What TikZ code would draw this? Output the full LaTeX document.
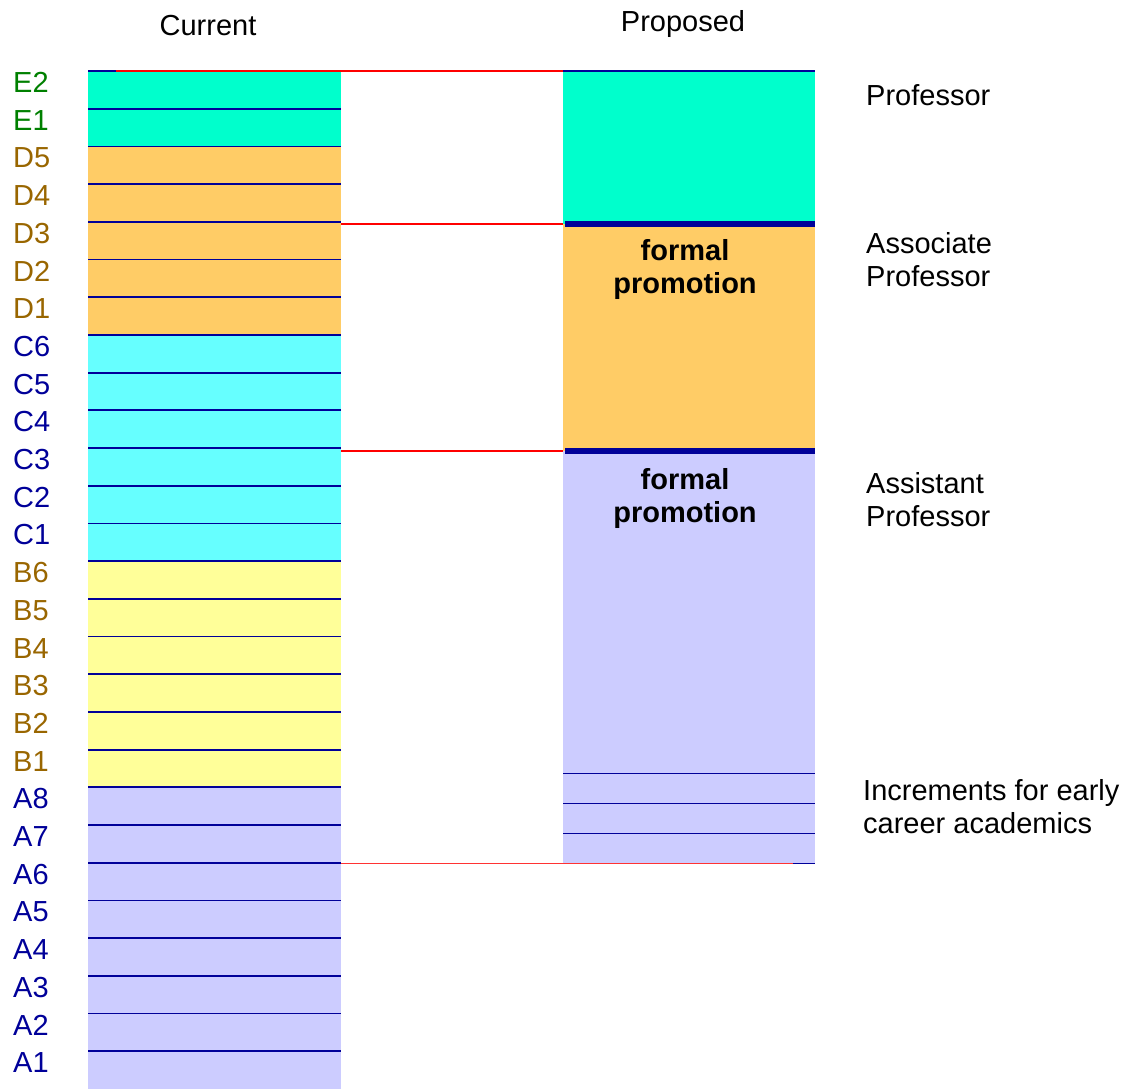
\documentclass[tikz,border=0pt]{standalone}
\usepackage{fontspec}
\setmainfont{Liberation Sans}
\usetikzlibrary{positioning}
\definecolor{tealfill}{HTML}{00FFCC}
\definecolor{orangefill}{HTML}{FFCC66}
\definecolor{cyanfill}{HTML}{66FFFF}
\definecolor{yellowfill}{HTML}{FFFF99}
\definecolor{lavfill}{HTML}{CCCCFF}
\definecolor{lineblue}{HTML}{000099}
\definecolor{egreen}{HTML}{008000}
\definecolor{dbrown}{HTML}{996600}
\definecolor{cblue}{HTML}{000099}
\newcommand{\chartfont}{\fontsize{29}{33}\selectfont}
\tikzset{%
	gradebox/.style  = {rectangle, inner sep=0pt, minimum width=253pt, minimum height=37.7pt, anchor=north west}, % grade step
	gradelabel/.style = {inner sep=0pt, anchor=base west},
	bandbox/.style   = {rectangle, inner sep=0pt, minimum width=252pt, anchor=north west}, % proposed band
	rank/.style      = {inner sep=0pt, anchor=north west, align=left},
	promo/.style     = {inner sep=0pt, anchor=north, align=center, font=\chartfont\bfseries},
	gridline/.style  = {draw=lineblue, line width=1.8pt},
	bandline/.style  = {draw=lineblue, line width=6pt},
	link/.style      = {draw=red, line width=1.5pt},
}

\begin{document}
\begin{tikzpicture}[x=1pt, y=-1pt, font=\chartfont]
	\useasboundingbox (0,0) rectangle (1127,1090);
	% current grades
	\foreach \g/\fc/\tc [count=\i from 0] in {E2/tealfill/egreen, E1/tealfill/egreen,
		D5/orangefill/dbrown, D4/orangefill/dbrown, D3/orangefill/dbrown, D2/orangefill/dbrown, D1/orangefill/dbrown,
		C6/cyanfill/cblue, C5/cyanfill/cblue, C4/cyanfill/cblue, C3/cyanfill/cblue, C2/cyanfill/cblue, C1/cyanfill/cblue,
		B6/yellowfill/dbrown, B5/yellowfill/dbrown, B4/yellowfill/dbrown, B3/yellowfill/dbrown, B2/yellowfill/dbrown, B1/yellowfill/dbrown,
		A8/lavfill/cblue, A7/lavfill/cblue, A6/lavfill/cblue, A5/lavfill/cblue, A4/lavfill/cblue, A3/lavfill/cblue, A2/lavfill/cblue, A1/lavfill/cblue}
	{
		\node[gradebox, fill=\fc] (\g) at (88, 71+\i*37.7) {};
		\draw[gridline] (\g.north west) -- (\g.north east);
		\node[gradelabel, text=\tc] (l\g) at (13, 92.5+\i*37.7) {\g};
	}
	% proposed bands
	\node[bandbox, fill=tealfill, minimum height=153pt] (prof) at (563,71) {};
	\node[bandbox, fill=orangefill, minimum height=227pt] (assoc) at (563,224) {};
	\node[bandbox, fill=lavfill, minimum height=412pt] (asst) at (563,451) {};
	\draw[gridline] (prof.north west) -- (prof.north east);
	\draw[bandline] ([xshift=2pt]assoc.north west) -- (assoc.north east);
	\draw[bandline] ([xshift=2pt]asst.north west) -- (asst.north east);
	\foreach \d in {0,30,60,90}
		\draw[gridline] ([yshift=\d pt]asst.south west) -- ([yshift=\d pt]asst.south east);
	% links
	\draw[link] ([xshift=27.5pt]E2.north west) -- (prof.north west);
	\draw[link] (assoc.north west -| D3.east) -- (assoc.north west);
	\draw[link] (asst.north west -| C3.east) -- (asst.north west);
	\draw[link, draw=red!80, line width=1.2pt] (asst.south west -| A6.east) -- ([xshift=-22pt]asst.south east);
	% texts
	\node[anchor=base] (current) at (208,35) {Current};
	\node[anchor=base] (proposed) at (683,31) {Proposed};
	\node[promo] (passoc) at (685,239) {formal\\promotion};
	\node[promo] (passt) at (685,468) {formal\\promotion};
	\node[rank] (rprof) at (866,84) {Professor};
	\node[rank] (rassoc) at (866,232) {Associate\\Professor};
	\node[rank] (rasst) at (866,472) {Assistant\\Professor};
	\node[rank] (rincr) at (863,779) {Increments for early\\career academics};
\end{tikzpicture}
\end{document}
